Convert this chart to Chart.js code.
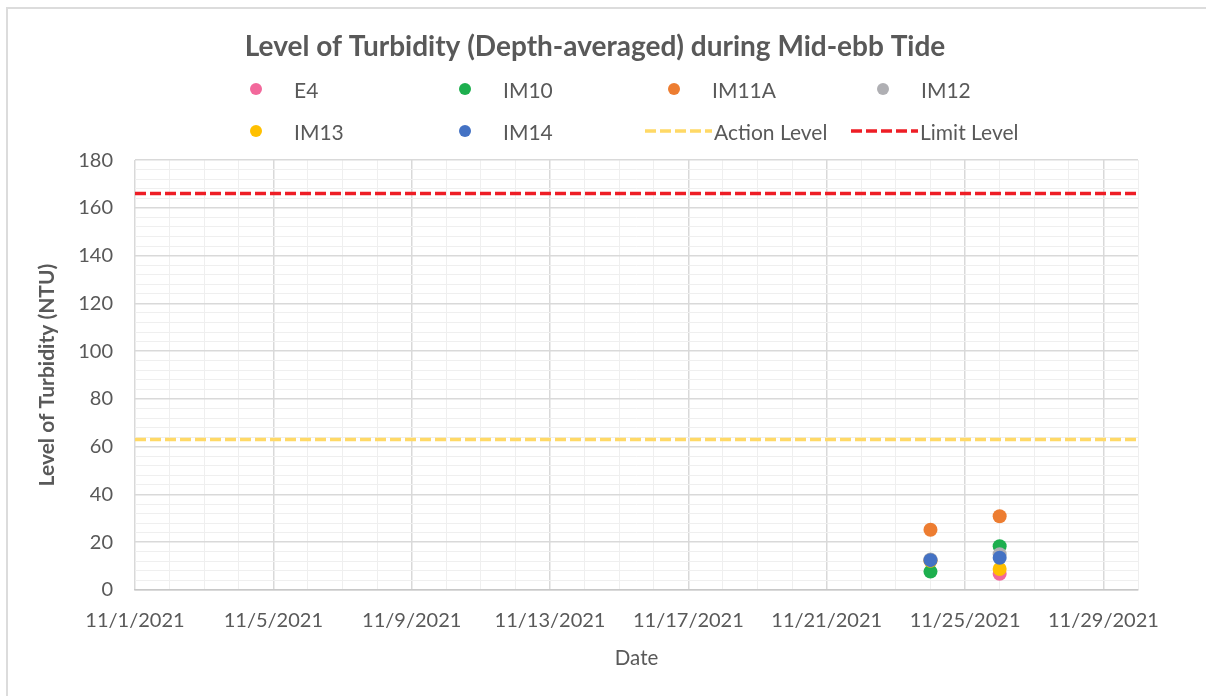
<!DOCTYPE html>
<html>
<head>
<meta charset="utf-8">
<script src="https://cdn.jsdelivr.net/npm/chart.js@4"></script>
<style>
  body { margin: 0; background: #fff; overflow: hidden; }
  #frame { position: absolute; left: 6px; top: 7px; width: 1230px; height: 720px; border: 2px solid #dcdcdc; }
  #turbidity-chart { position: absolute; left: 0; top: 0; }
  #legend { position: absolute; left: 222px; top: 76px; width: 860px; font-family: Lato, sans-serif; font-size: 21px; color: #595959; }
  .item { position: absolute; height: 26px; display: flex; align-items: center; white-space: nowrap; }
  .sym { width: 67px; height: 26px; display: flex; align-items: center; justify-content: center; }
  .dot { width: 12px; height: 12px; border-radius: 50%; }
</style>
</head>
<body>
<div id="frame"></div>
<canvas id="turbidity-chart" width="1206" height="696"></canvas>
<div id="legend"></div>
<script>
// measurement days and depth-averaged turbidity (NTU)
const dates = ['11/24/2021', '11/26/2021'];
const e4 = [12.3, 6.8];
const im10 = [7.7, 18.3];
const im11a = [25.2, 30.9];
const im12 = [12.8, 15.0];
const im13 = [12.2, 8.8];
const im14 = [12.5, 13.5];

// criteria lines
const levelDates = ['11/1/2021', '11/30/2021'];
const actionLevel = [63, 63];
const limitLevel = [166, 166];

const xTickLabels = ['11/1/2021', '11/5/2021', '11/9/2021', '11/13/2021', '11/17/2021', '11/21/2021', '11/25/2021', '11/29/2021'];

const stations = [
  { name: 'E4', values: e4, color: '#F2689B' },
  { name: 'IM10', values: im10, color: '#1DAF4E' },
  { name: 'IM11A', values: im11a, color: '#ED7D31' },
  { name: 'IM12', values: im12, color: '#AFAFB3' },
  { name: 'IM13', values: im13, color: '#FFC000' },
  { name: 'IM14', values: im14, color: '#4472C4' }
];

const start = new Date(2021, 10, 1);
function dayOf(s) {
  const p = s.split('/');
  const d = new Date(+p[2], +p[0] - 1, +p[1]);
  return Math.round((d - start) / 86400000);
}
function labelOf(v) {
  const d = new Date(start.getTime() + v * 86400000);
  return (d.getMonth() + 1) + '/' + d.getDate() + '/' + d.getFullYear();
}

const datasets = stations.map((s, i) => ({
  label: s.name,
  type: 'scatter',
  data: dates.map((d, j) => ({ x: dayOf(d), y: s.values[j] })),
  backgroundColor: s.color,
  borderWidth: 0,
  pointRadius: 7,
  pointHoverRadius: 7,
  order: stations.length - i
}));

datasets.push({
  label: 'Action Level',
  type: 'line',
  data: levelDates.map((d, j) => ({ x: dayOf(d), y: actionLevel[j] })),
  borderColor: '#FFD966',
  borderWidth: 3.5,
  borderDash: [11, 4],
  pointRadius: 0,
  order: 0
});
datasets.push({
  label: 'Limit Level',
  type: 'line',
  data: levelDates.map((d, j) => ({ x: dayOf(d), y: limitLevel[j] })),
  borderColor: '#EE1D25',
  borderWidth: 3.5,
  borderDash: [11, 4],
  pointRadius: 0,
  order: 0
});

const tickFont = { family: 'Lato', size: 20 };
const textColor = '#595959';

new Chart(document.getElementById('turbidity-chart'), {
  type: 'scatter',
  data: { datasets: datasets },
  options: {
    responsive: false,
    animation: false,
    layout: { padding: { left: 0, right: 16, top: 0, bottom: 0 } },
    plugins: {
      legend: { display: false },
      tooltip: { enabled: false },
      title: {
        display: true,
        text: 'Level of Turbidity (Depth-averaged) during Mid-ebb Tide',
        color: textColor,
        font: { family: 'Lato', size: 28, weight: 'bold' },
        padding: { top: 30, bottom: 96.5 }
      }
    },
    scales: {
      x: {
        type: 'linear',
        min: 0,
        max: 29,
        afterFit: (scale) => { scale.height = 106; },
        afterBuildTicks: (scale) => {
          const t = [];
          for (let v = 0; v <= 29; v++) t.push({ value: v });
          scale.ticks = t;
        },
        ticks: {
          autoSkip: false,
          maxRotation: 0,
          color: textColor,
          font: tickFont,
          padding: 19,
          callback: (v) => xTickLabels.includes(labelOf(v)) ? labelOf(v) : ''
        },
        grid: {
          drawTicks: false,
          color: (ctx) => ctx.tick && ctx.tick.value % 4 === 0 ? '#d9d9d9' : '#efefef',
          lineWidth: (ctx) => ctx.tick && ctx.tick.value % 4 === 0 ? 1.5 : 1
        },
        border: { display: true, color: '#c8c8c8', width: 1.5 },
        title: {
          display: true,
          text: 'Date',
          color: textColor,
          font: { family: 'Lato', size: 20.5 },
          padding: { top: 0, bottom: 25 }
        }
      },
      y: {
        min: 0,
        max: 180,
        afterFit: (scale) => { scale.width = 135; },
        ticks: {
          stepSize: 4,
          autoSkip: false,
          color: textColor,
          font: tickFont,
          padding: 22,
          callback: (v) => v % 20 === 0 ? String(v) : ''
        },
        grid: {
          drawTicks: false,
          color: (ctx) => ctx.tick && ctx.tick.value % 20 === 0 ? '#d9d9d9' : '#efefef',
          lineWidth: (ctx) => ctx.tick && ctx.tick.value % 20 === 0 ? 1.5 : 1
        },
        border: { display: false },
        title: {
          display: true,
          text: 'Level of Turbidity (NTU)',
          color: textColor,
          font: { family: 'Lato', size: 21, weight: 'bold' },
          padding: { top: 35, bottom: 0 }
        }
      },
      // empty right-hand margin so the title centres on the whole chart box
      yRight: {
        position: 'right',
        display: true,
        afterFit: (scale) => { scale.width = 52; },
        ticks: { display: false },
        grid: { display: false, drawTicks: false },
        border: { display: false }
      }
    }
  }
});

// legend laid out in fixed columns like the original
const legend = document.getElementById('legend');
const entries = stations.map(s => ({ name: s.name, color: s.color, kind: 'dot' }))
  .concat([{ name: 'Action Level', color: '#FFD966', kind: 'line' }, { name: 'Limit Level', color: '#EE1D25', kind: 'line' }]);
const lineShift = [0, 0, 5, 2];
entries.forEach((e, i) => {
  const col = i % 4, row = Math.floor(i / 4);
  const el = document.createElement('div');
  el.className = 'item';
  el.style.left = (col * 209 + (e.kind === 'line' ? lineShift[col] : 0)) + 'px';
  el.style.top = (row * 42) + 'px';
  const sym = document.createElement('div');
  sym.className = 'sym';
  if (e.kind === 'dot') {
    sym.innerHTML = '<div class="dot" style="background:' + e.color + '"></div>';
  } else {
    sym.innerHTML = '<svg width="67" height="6"><line x1="0" y1="3" x2="67" y2="3" stroke="' + e.color + '" stroke-width="3.5" stroke-dasharray="11 4"/></svg>';
  }
  const txt = document.createElement('span');
  txt.style.marginLeft = e.kind === 'dot' ? '5px' : '2px';
  txt.textContent = e.name;
  el.appendChild(sym);
  el.appendChild(txt);
  legend.appendChild(el);
});
</script>
</body>
</html>
